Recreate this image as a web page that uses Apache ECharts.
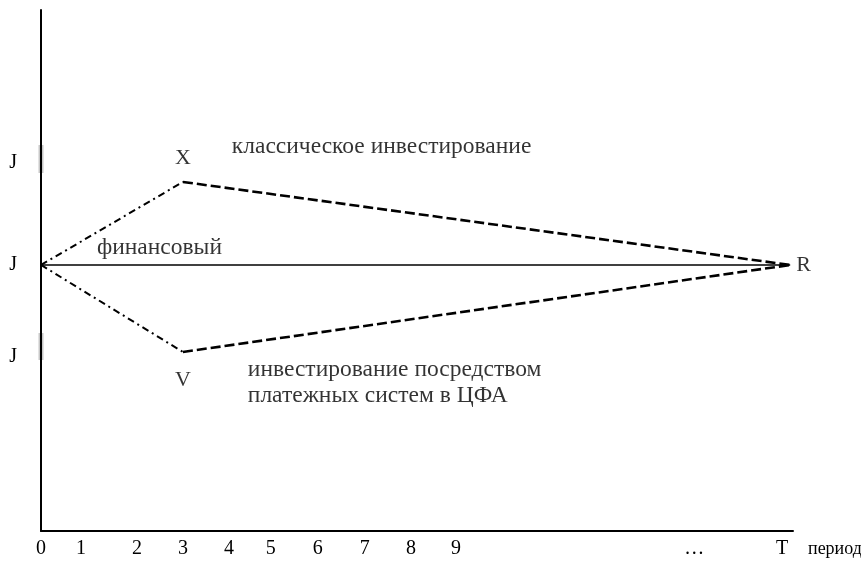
<!DOCTYPE html>
<html><head><meta charset="utf-8">
<script src="https://cdn.jsdelivr.net/npm/echarts@6/dist/echarts.min.js"></script>
<style>html,body{margin:0;padding:0;background:#fff}#c{width:861px;height:561px}</style>
</head><body><div id="c"></div>
<script>
// x positions (in period-units) of the tick labels and the labels themselves
const xTickValues = [0, 0.85, 2.04, 3.02, 4.0, 4.89, 5.89, 6.89, 7.87, 8.83, 13.9, 15.77];
const xTickLabels = ['0', '1', '2', '3', '4', '5', '6', '7', '8', '9', '…', 'T'];
const xAxisName = 'период';
// y levels (arbitrary units)
const yTickValues = [33.4, 51.06, 70.6];
const yTickLabels = ['J', 'J', 'J'];
// key points
const pJ = [0, 51.06];
const pX = [3.02, 67.0];
const pV = [3.02, 34.36];
const pR = [15.94, 51.06];
// short marks on the y axis near the upper and lower J
const markUpper = [[0, 74.1], [0, 68.7]];
const markLower = [[0, 38.0], [0, 32.8]];
// text annotations: [x, y, text]
const notes = [
  [4.06, 73.7, 'классическое инвестирование'],
  [1.19, 54.3, 'финансовый'],
  [4.40, 28.4, 'инвестирование посредством\nплатежных систем в ЦФА']
];
const pointLabels = [
  [pX[0], 71.6, 'X'],
  [pV[0], 29.0, 'V']
];

const FONT = '"Liberation Serif", "Times New Roman", serif';
const FS = 20;
const FS_NOTE = 23.5;
const chart = echarts.init(document.getElementById('c'));
function nearestLabel(v, vals, labs) {
  let bi = 0, bd = Infinity;
  vals.forEach((t, i) => { const d = Math.abs(t - v); if (d < bd) { bd = d; bi = i; } });
  return bd < 0.01 ? labs[bi] : '';
}
chart.setOption({
  animation: false,
  grid: { left: 41, right: 68, top: 10, bottom: 30, outerBoundsMode: 'none', containLabel: false },
  xAxis: {
    type: 'value', min: 0, max: 16,
    splitLine: { show: false },
    axisLine: { lineStyle: { color: '#000', width: 2 } },
    axisTick: { show: false },
    axisLabel: {
      customValues: xTickValues,
      formatter: v => nearestLabel(v, xTickValues, xTickLabels),
      color: '#000', fontFamily: FONT, fontSize: FS, margin: 8,
      showMinLabel: true, showMaxLabel: true, hideOverlap: false
    },
    name: xAxisName, nameLocation: 'end', nameGap: 15,
    nameTextStyle: { color: '#000', fontFamily: FONT, fontSize: 18, verticalAlign: 'top', padding: [9, 0, 0, 0] }
  },
  yAxis: {
    type: 'value', min: 0, max: 100,
    splitLine: { show: false },
    axisLine: { show: true, lineStyle: { color: '#000', width: 2 } },
    axisTick: { show: false },
    axisLabel: {
      customValues: yTickValues,
      formatter: v => nearestLabel(v, yTickValues, yTickLabels),
      color: '#000', fontFamily: FONT, fontSize: FS, margin: 24,
      showMinLabel: true, showMaxLabel: true
    }
  },
  series: [
    { type: 'line', data: markUpper, symbol: 'none', lineStyle: { color: '#c8c8c8', width: 5 }, z: 1 },
    { type: 'line', data: markLower, symbol: 'none', lineStyle: { color: '#c8c8c8', width: 5 }, z: 1 },
    { type: 'line', data: markUpper, symbol: 'none', lineStyle: { color: '#000', width: 2 }, z: 2 },
    { type: 'line', data: markLower, symbol: 'none', lineStyle: { color: '#000', width: 2 }, z: 2 },
    { type: 'line', data: [pJ, pR], symbol: 'none', lineStyle: { color: '#000', width: 1.5 }, z: 3 },
    { type: 'line', data: [pJ, pX], symbol: 'none', lineStyle: { color: '#000', width: 2, type: [7, 4, 2, 4] }, z: 3 },
    { type: 'line', data: [pJ, pV], symbol: 'none', lineStyle: { color: '#000', width: 2, type: [7, 4, 2, 4] }, z: 3 },
    { type: 'line', data: [pX, pR], symbol: 'none', lineStyle: { color: '#000', width: 2.6, type: [10, 4] }, z: 3 },
    { type: 'line', data: [pV, pR], symbol: 'none', lineStyle: { color: '#000', width: 2.6, type: [10, 4] }, z: 3 },
    {
      type: 'scatter', symbolSize: 0, z: 4,
      data: [{ value: pR, label: { formatter: 'R' } }],
      label: { show: true, position: 'right', distance: 6, color: '#000', fontFamily: FONT, fontSize: 22 }
    },
    {
      type: 'scatter', symbolSize: 0, z: 4,
      data: pointLabels.map(p => ({ value: [p[0], p[1]], label: { formatter: p[2] } })),
      label: { show: true, position: 'inside', color: '#000', fontFamily: FONT, fontSize: 22 }
    },
    {
      type: 'scatter', symbolSize: 0, z: 4,
      data: notes.map(p => ({ value: [p[0], p[1]], label: { formatter: p[2] } })),
      label: { show: true, position: 'right', distance: 0, align: 'left', color: '#000', fontFamily: FONT, fontSize: FS_NOTE, lineHeight: 26 }
    }
  ]
});
</script></body></html>
